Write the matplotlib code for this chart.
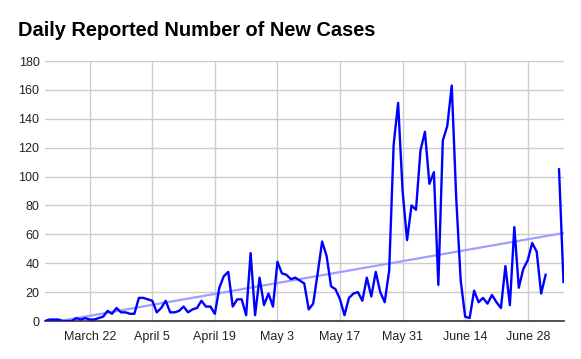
import numpy as np
import pandas as pd
import matplotlib
matplotlib.use("Agg")
import matplotlib.pyplot as plt
import matplotlib.dates as mdates

plt.rcParams['font.family'] = ['Liberation Sans', 'DejaVu Sans']

start_date = "2020-03-12"
new_cases = [
    0, 1, 1, 1, 0, 0, 0, 2, 1, 2,
    1, 1, 2, 3, 7, 5, 9, 6, 6, 5,
    5, 16, 16, 15, 14, 6, 9, 14, 6, 6,
    7, 10, 6, 8, 9, 14, 10, 10, 5, 23,
    31, 34, 10, 15, 15, 4, 47, 4, 30, 11,
    19, 10, 41, 33, 32, 29, 30, 28, 26, 8,
    12, 33, 55, 45, 24, 22, 15, 4, 16, 19,
    20, 14, 30, 17, 34, 20, 13, 35, 122, 151,
    90, 56, 80, 77, 118, 131, 95, 103, 25, 125,
    135, 163, 85, 28, 3, 2, 21, 13, 16, 12,
    18, 13, 9, 38, 11, 65, 23, 36, 42, 54,
    48, 19, 32, np.nan, np.nan, 105, 27,
]
tick_labels = ["March 22", "April 5", "April 19", "May 3", "May 17", "May 31", "June 14", "June 28"]
tick_dates = ["2020-03-22", "2020-04-05", "2020-04-19", "2020-05-03",
              "2020-05-17", "2020-05-31", "2020-06-14", "2020-06-28"]

dates = pd.date_range(start_date, periods=len(new_cases), freq="D")
df = pd.DataFrame({"date": dates, "cases": new_cases})

# linear trendline, like the spreadsheet one
ok = df["cases"].notna()
xnum = mdates.date2num(df["date"])
k, b = np.polyfit(xnum[ok], df.loc[ok, "cases"], 1)

fig = plt.figure(figsize=(5.81, 3.59), dpi=100)
ax = fig.add_axes([45 / 581, 1 - 321 / 359, (563.5 - 45) / 581, 260 / 359])

ax.plot(df["date"], k * xnum + b, color="#9f9fff", lw=1.6, zorder=2)
ax.plot(df["date"], df["cases"], color="#0000ff", lw=1.7, zorder=3)

ax.set_xlim(dates[0], dates[-1])
ax.set_ylim(0, 180)
ax.set_yticks(range(0, 181, 20))
ax.set_xticks(pd.to_datetime(tick_dates))
ax.set_xticklabels(tick_labels)

ax.grid(True, color="#cccccc", lw=1)
ax.set_axisbelow(True)
for s in ["top", "right", "left"]:
    ax.spines[s].set_visible(False)
ax.spines["bottom"].set_color("#333333")
ax.spines["bottom"].set_linewidth(1.2)
ax.tick_params(length=0, labelsize=9, colors="#222222", pad=7)
ax.tick_params(axis="y", pad=4)

fig.text(18 / 581, 1 - 31 / 359, "Daily Reported Number of New Cases",
         fontsize=14.4, fontweight="bold", va="center", ha="left", color="#000000")

fig.savefig("out.png", dpi=100)
